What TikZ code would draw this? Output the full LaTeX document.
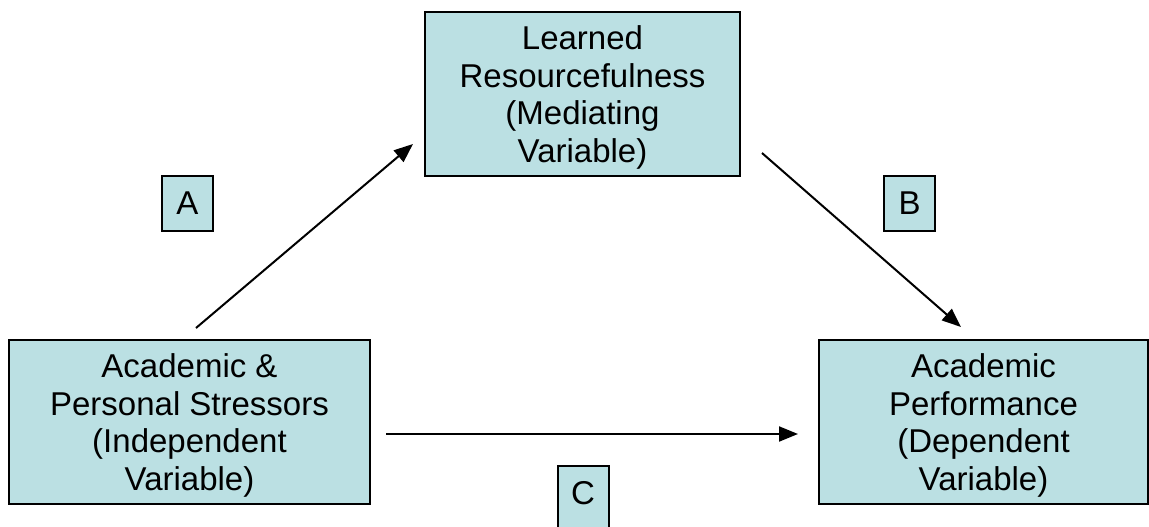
\documentclass[tikz,border=0pt]{standalone}
\usepackage{fontspec}
\setmainfont{Liberation Sans}
\usetikzlibrary{arrows.meta}
\definecolor{boxfill}{RGB}{187,224,227}
% stacked, centred lines set a little below the box centre
\newcommand{\boxlines}[1]{\raisebox{0pt}[\dimexpr\height+9pt\relax][\depth]{\begin{tabular}{@{}c@{}}#1\end{tabular}}}
\begin{document}
\begin{tikzpicture}[x=1pt,y=-1pt,
  varbox/.style={draw=black, line width=2pt, fill=boxfill, rectangle,
    inner sep=0pt, font=\fontsize{33}{37.5}\selectfont},
  pathbox/.style={draw=black, line width=2pt, fill=boxfill, rectangle,
    inner sep=0pt, minimum width=51, font=\fontsize{33}{37.5}\selectfont},
  arr/.style={line width=2pt, -{Triangle[length=19pt,width=15pt]}}]
  \clip (0,0) rectangle (1149,527);
  % variable boxes
  \node[varbox, minimum width=361, minimum height=164] (IV) at (189.5,422)
    {\boxlines{Academic \&\\Personal Stressors\\(Independent\\Variable)}};
  \node[varbox, minimum width=315, minimum height=164] (MV) at (582.5,94)
    {\boxlines{Learned\\Resourcefulness\\(Mediating\\Variable)}};
  \node[varbox, minimum width=329, minimum height=164] (DV) at (983.5,422)
    {\boxlines{Academic\\Performance\\(Dependent\\Variable)}};
  % path labels
  \node[pathbox, minimum height=55] (A) at (187.5,203.5) {A};
  \node[pathbox, minimum height=55] (B) at (909.5,203.5) {B};
  \node[pathbox, minimum height=80, anchor=north] (C) at (583,465)
    {\raisebox{0pt}[\height][\dimexpr\depth+25pt\relax]{C}};
  % connectors
  \draw[arr] ([shift={(6.5,-11)}]IV.north) -- ([shift={(-11,-33)}]MV.south west);
  \draw[arr] ([shift={(21,-24)}]MV.south east) -- ([shift={(-22.5,-12)}]DV.north);
  \draw[arr] ([shift={(15,12)}]IV.east) -- ([shift={(-20,12)}]DV.west);
\end{tikzpicture}
\end{document}
